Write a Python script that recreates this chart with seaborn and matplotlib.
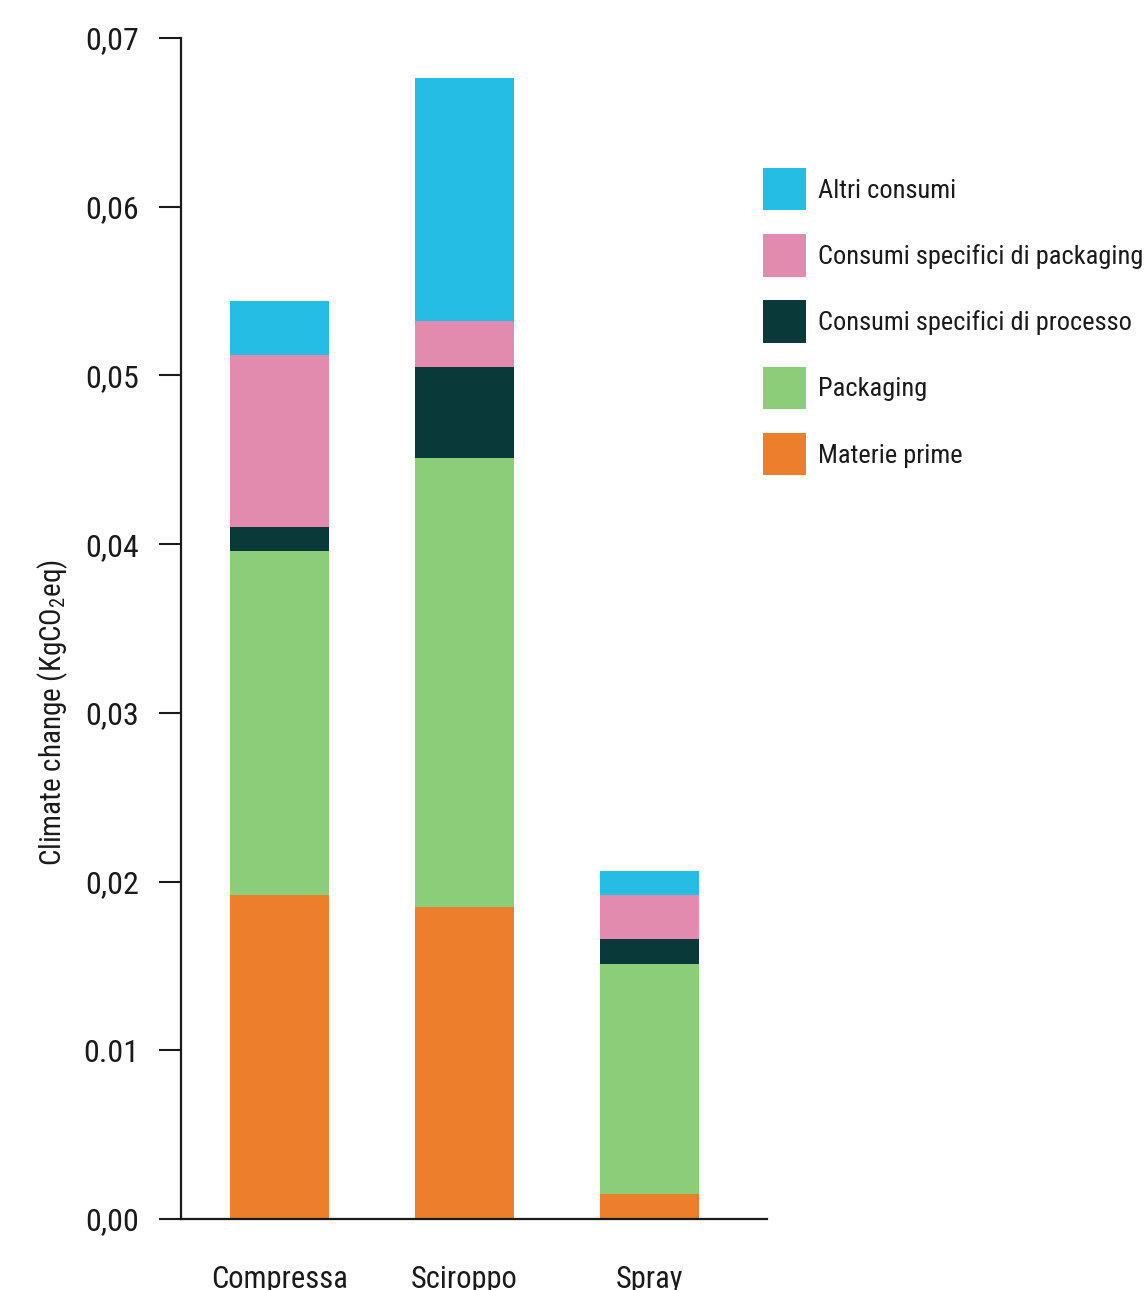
import matplotlib
matplotlib.use("Agg")
import matplotlib.pyplot as plt
import seaborn as sns
import numpy as np
from matplotlib.patches import Patch

categories = ["Compressa", "Sciroppo", "Spray"]
materie_prime = [0.0192, 0.0185, 0.0015]
packaging = [0.0204, 0.0266, 0.0136]
consumi_processo = [0.0014, 0.0054, 0.0015]
consumi_packaging = [0.0102, 0.0027, 0.0026]
altri_consumi = [0.0032, 0.0144, 0.0014]

series_names = ["Materie prime", "Packaging", "Consumi specifici di processo",
                "Consumi specifici di packaging", "Altri consumi"]
series_values = [materie_prime, packaging, consumi_processo, consumi_packaging, altri_consumi]
colors = ["#EC7E2C", "#8BCD79", "#093A39", "#E28BAE", "#25BDE3"]

yticks = [0.0, 0.01, 0.02, 0.03, 0.04, 0.05, 0.06, 0.07]
ytick_labels = ["0,00", "0.01", "0,02", "0,03", "0,04", "0,05", "0,06", "0,07"]

sns.set_style("white")
fam = ["Roboto Condensed", "Roboto", "DejaVu Sans"]
plt.rcParams["font.family"] = fam
plt.rcParams["mathtext.fontset"] = "custom"
plt.rcParams["mathtext.rm"] = "Roboto Condensed"
plt.rcParams["mathtext.it"] = "Roboto Condensed"
plt.rcParams["mathtext.default"] = "regular"
TXT = "#1a1a1a"

fig = plt.figure(figsize=(11.48, 12.9), dpi=100)
ax = fig.add_axes([181/1148, 1 - 1219/1290, (767-181)/1148, (1219-38)/1290])

cum = np.cumsum(np.array(series_values), axis=0)
for i in range(len(series_names) - 1, -1, -1):
    sns.barplot(x=categories, y=cum[i], color=colors[i], width=0.535,
                saturation=1, ax=ax, linewidth=0)

ax.set_xlim(-0.532, 2.635)
ax.set_ylim(0, 0.07)
ax.set_yticks(yticks)
ax.set_yticklabels(ytick_labels, fontsize=23, color=TXT)
ax.tick_params(axis="y", length=16, width=1.5, color=TXT, pad=14, left=True)
ax.tick_params(axis="x", length=0, pad=33, labelsize=22, labelcolor=TXT)

for s in ["top", "right"]:
    ax.spines[s].set_visible(False)
for s in ["left", "bottom"]:
    ax.spines[s].set_linewidth(1.6)
    ax.spines[s].set_color(TXT)

ax.set_ylabel(r"Climate change (KgCO$_2$eq)", fontsize=21, color=TXT)
ax.yaxis.set_label_coords(-0.19, 0.429)
ax.set_xlabel("")

handles = [Patch(facecolor=colors[i], edgecolor="none", label=series_names[i])
           for i in range(len(series_names) - 1, -1, -1)]
leg = fig.legend(handles=handles, loc="upper left",
                 bbox_to_anchor=(763/1148, 1 - 168/1290), bbox_transform=fig.transFigure,
                 frameon=False, fontsize=19, handlelength=1.63, handleheight=2.1,
                 labelspacing=0.9, handletextpad=0.45, borderpad=0, borderaxespad=0)
for t in leg.get_texts():
    t.set_color(TXT)

fig.savefig("out.png", dpi=100)
